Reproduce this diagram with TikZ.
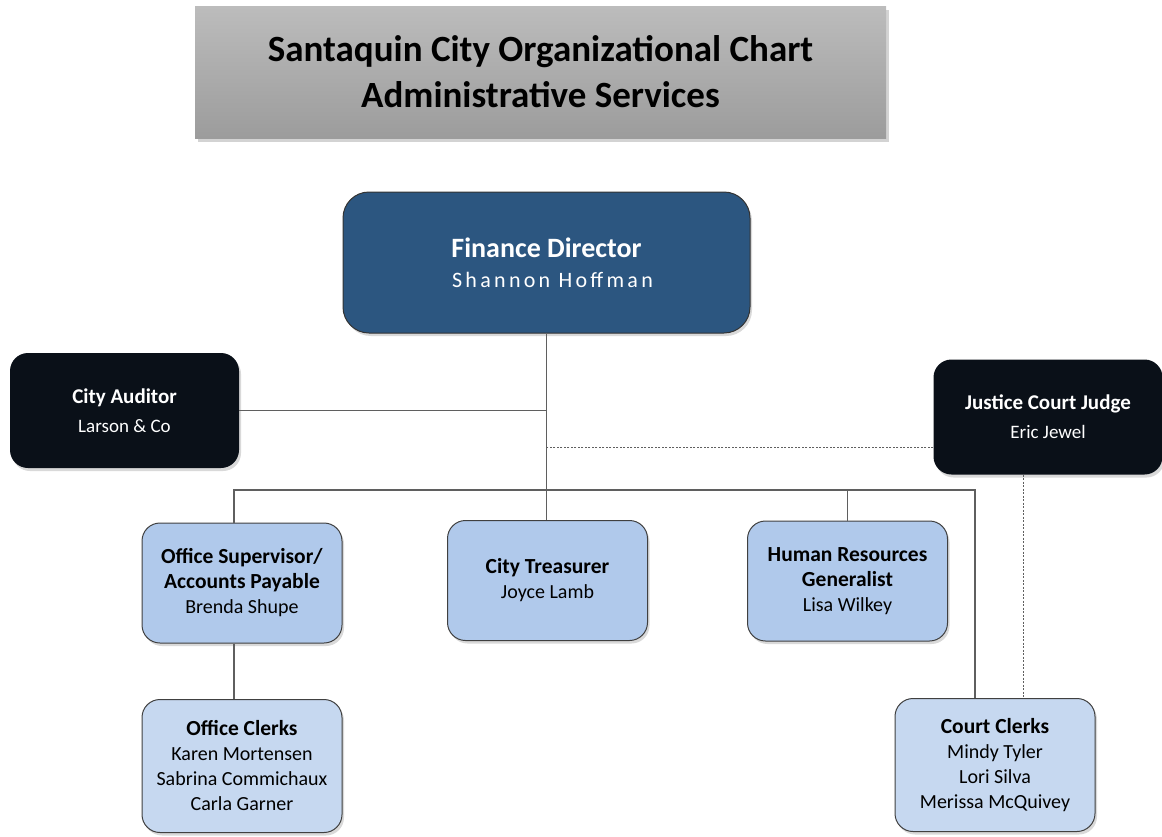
\documentclass[tikz,border=0pt]{standalone}
\usepackage{fontspec}
\setmainfont{Carlito}
\usepackage{tikz}
\usetikzlibrary{shadows,positioning}
\definecolor{TitleTop}{RGB}{188,188,188}
\definecolor{TitleBot}{RGB}{156,156,156}
\definecolor{DirBlue}{RGB}{44,86,128}
\definecolor{NightBox}{RGB}{10,16,24}
\definecolor{StaffBlue}{RGB}{176,201,235}
\definecolor{ClerkBlue}{RGB}{198,216,240}
\definecolor{LinkGray}{RGB}{95,95,95}

\begin{document}
\begin{tikzpicture}[
  x=1pt, y=-1pt,
  banner/.style={
    rectangle,
    top color=TitleTop,
    bottom color=TitleBot,
    align=center,
    minimum width=691pt,
    minimum height=132pt,
    font=\fontsize{37}{46}\selectfont\bfseries,
    drop shadow={shadow xshift=3pt, shadow yshift=-4pt, opacity=0.35}
  },
  director/.style={
    rectangle,
    rounded corners=26pt,
    draw=black!80,
    line width=1pt,
    fill=DirBlue,
    text=white,
    align=center,
    minimum width=407pt,
    minimum height=141pt,
    font=\fontsize{22}{30}\selectfont,
    drop shadow={shadow xshift=2pt, shadow yshift=-3pt, opacity=0.3}
  },
  outside/.style={
    rectangle,
    rounded corners=18pt,
    fill=NightBox,
    text=white,
    align=center,
    minimum width=229pt,
    minimum height=115pt,
    font=\fontsize{19}{29}\selectfont,
    drop shadow={shadow xshift=2pt, shadow yshift=-3pt, opacity=0.3}
  },
  staff/.style={
    rectangle,
    rounded corners=18pt,
    draw=black!75,
    line width=1pt,
    fill=StaffBlue,
    align=center,
    minimum width=200pt,
    minimum height=120pt,
    font=\fontsize{20}{25}\selectfont,
    drop shadow={shadow xshift=2pt, shadow yshift=-3pt, opacity=0.3}
  },
  clerks/.style={
    staff,
    fill=ClerkBlue,
    minimum height=133pt
  },
  link/.style={draw=LinkGray, line width=1.1pt},
  dotlink/.style={draw=LinkGray, line width=1pt, dash pattern=on 2pt off 1.5pt}
]
\useasboundingbox (0,0) rectangle (1162,836);

% title
\node[banner] (head) at (540.5,72) {Santaquin City Organizational Chart\\Administrative Services};

% top of the chart
\node[director] (fin) at (546.5,262.5) {\textbf{\fontsize{28}{30}\selectfont Finance Director}\\{\addfontfeature{LetterSpace=15}\hspace*{12pt}Shannon Hoffman}};
\node[outside] (aud) at (124.5,410.5) {\textbf{\fontsize{21}{29}\selectfont City Auditor}\\Larson \& Co};
\node[outside] (judge) at (1048,417) {\textbf{\fontsize{21}{29}\selectfont Justice Court Judge}\\Eric Jewel};

% staff row
\node[staff] (sup) at (242,583) {\textbf{\fontsize{21.5}{25}\selectfont Office Supervisor/}\\\textbf{\fontsize{21.5}{25}\selectfont Accounts Payable}\\Brenda Shupe};
\node[staff] (treas) at (547.5,580.5) {\textbf{\fontsize{21.5}{25}\selectfont City Treasurer}\\Joyce Lamb};
\node[staff] (hr) at (847.5,581) {\textbf{\fontsize{21.5}{25}\selectfont Human Resources}\\\textbf{\fontsize{21.5}{25}\selectfont Generalist}\\Lisa Wilkey};

% clerks
\node[clerks] (oclerks) at (242,766) {\textbf{\fontsize{21.5}{25}\selectfont Office Clerks}\\Karen Mortensen\\Sabrina Commichaux\\Carla Garner};
\node[clerks] (cclerks) at (995,765) {\textbf{\fontsize{21.5}{25}\selectfont Court Clerks}\\Mindy Tyler\\Lori Silva\\Merissa McQuivey};

\coordinate (bus) at (548,490);

\draw[link] (fin.south) -- (fin.south |- treas.north);
\draw[link] (aud.east) -- (aud.east -| fin.south);
\draw[dotlink] ([yshift=-30pt]judge.west) -- ([yshift=-30pt]judge.west -| fin.south);
\draw[link] ([xshift=-8pt]sup.north) |- (bus) -| ([xshift=-20pt]cclerks.north);
\draw[link] (hr.north) -- (hr.north |- bus);
\draw[link] ([xshift=-8pt]sup.south) -- ([xshift=-8pt]oclerks.north);
\draw[dotlink] ([xshift=-25pt]judge.south) -- ([xshift=-25pt]judge.south |- cclerks.north);
\end{tikzpicture}
\end{document}
